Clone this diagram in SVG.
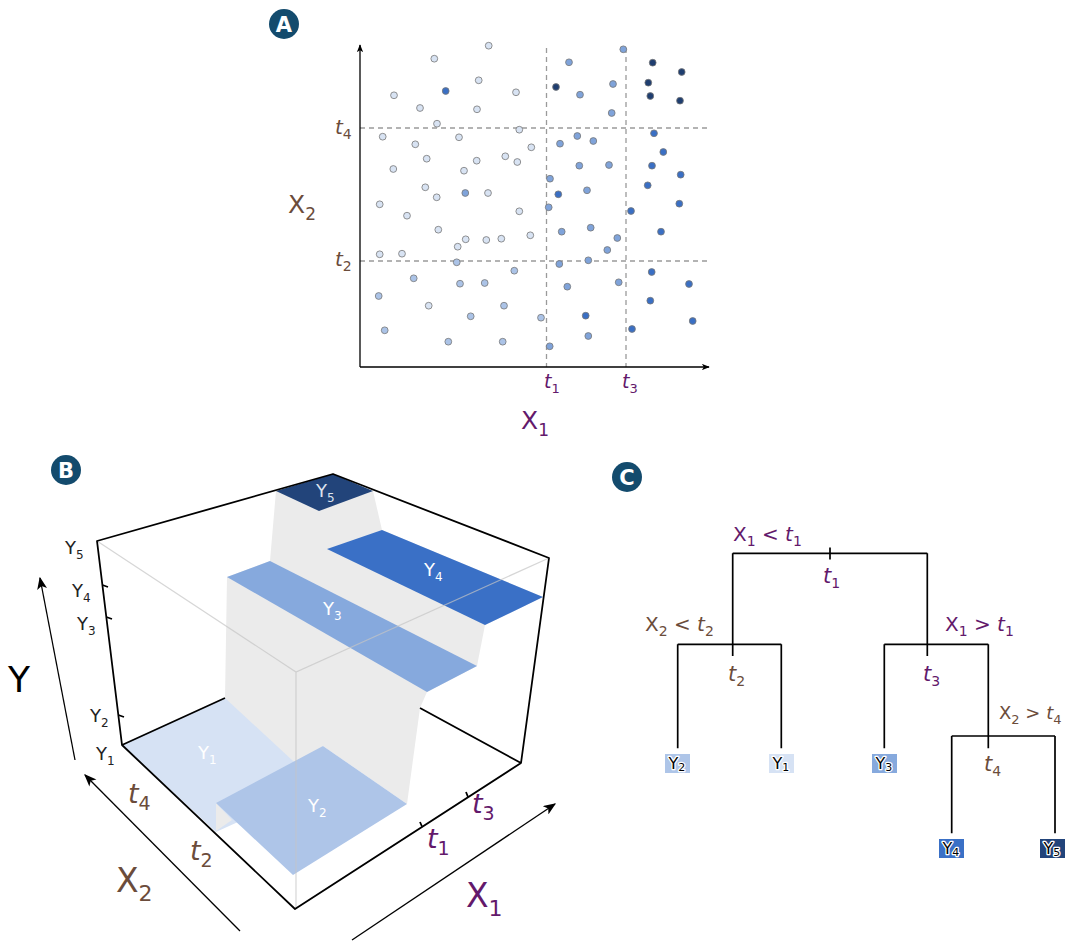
<svg xmlns="http://www.w3.org/2000/svg" width="1065" height="947" viewBox="0 0 1065 947">
<style>
text{font-family:"DejaVu Sans","Liberation Sans",sans-serif}
.pu{fill:#63196b}.br{fill:#6b4c3b}
.it{font-style:italic}
.badge circle{fill:#134b6d}
.badge text{fill:#fff;font-weight:bold;font-size:21px;text-anchor:middle}
.ax{stroke:#000;stroke-width:1.3;fill:none}
.dash{stroke:#9a9a9a;stroke-width:1.3;stroke-dasharray:5 4;fill:none}
.pt circle{r:3.4px;stroke:#777;stroke-width:0.8}
.L{fill:#d8e3f3}.M2{fill:#abc3e7}.M{fill:#7fa3da}.B{fill:#3a6fc4}.D{fill:#1f3e70}
.edge{stroke:#000;stroke-width:1.8;fill:none;stroke-linejoin:round}
.glin{stroke:#c4c4c4;stroke-width:1.2;fill:none;opacity:0.7}
.plab{fill:#fff;font-size:18px}
.ylab{fill:#222;font-size:18px}
.tree{stroke:#000;stroke-width:1.7;fill:none}
.leaf text{font-size:16px;fill:#000;stroke:#fff;stroke-width:2.5;paint-order:stroke;stroke-linejoin:round}
</style>
<defs>
<marker id="arrA" viewBox="0 0 10 8" refX="9" refY="4" markerWidth="8" markerHeight="6.4" markerUnits="userSpaceOnUse" orient="auto"><path d="M0,0 L10,4 L0,8 L2.5,4 z" fill="#000"/></marker>
<marker id="arrB" viewBox="0 0 10 8" refX="9" refY="4" markerWidth="13" markerHeight="10" markerUnits="userSpaceOnUse" orient="auto"><path d="M0,0 L10,4 L0,8 L2.5,4 z" fill="#000"/></marker>
</defs>

<!-- Panel A -->
<g id="badgeA" class="badge"><circle cx="284" cy="24" r="15"/><text x="284" y="31.5">A</text></g>
<g id="panelA-grid">
<line class="dash" x1="546.5" y1="48" x2="546.5" y2="367"/>
<line class="dash" x1="626" y1="48" x2="626" y2="367"/>
<line class="dash" x1="360" y1="128" x2="707" y2="128"/>
<line class="dash" x1="360" y1="261" x2="707" y2="261"/>
</g>
<g id="panelA-axes">
<line class="ax" x1="360" y1="367" x2="360" y2="45" marker-end="url(#arrA)"/>
<line class="ax" x1="360" y1="367" x2="709" y2="367" marker-end="url(#arrA)"/>
</g>
<g id="panelA-points" class="pt">
<circle class="L" cx="488.7" cy="45.7"/><circle class="L" cx="434.3" cy="58.7"/><circle class="L" cx="394" cy="95.3"/><circle class="L" cx="478.7" cy="80.3"/><circle class="L" cx="420" cy="108"/><circle class="L" cx="477" cy="109.3"/><circle class="L" cx="516" cy="92.3"/><circle class="L" cx="437" cy="123.7"/><circle class="L" cx="382.7" cy="136.7"/><circle class="L" cx="415.3" cy="144.3"/><circle class="L" cx="459" cy="137.3"/><circle class="L" cx="519.3" cy="129.7"/><circle class="L" cx="531.3" cy="147.3"/><circle class="L" cx="393.3" cy="169"/><circle class="L" cx="426.7" cy="158.7"/><circle class="L" cx="464" cy="170.7"/><circle class="L" cx="476.7" cy="160.7"/><circle class="L" cx="505.3" cy="156.3"/><circle class="L" cx="517.3" cy="162"/><circle class="L" cx="425.3" cy="187.3"/><circle class="L" cx="436.7" cy="197.3"/><circle class="L" cx="488" cy="193"/><circle class="L" cx="379.7" cy="204.3"/><circle class="L" cx="407" cy="215.7"/><circle class="L" cx="519.3" cy="211.3"/><circle class="L" cx="438.3" cy="229.7"/><circle class="L" cx="465.7" cy="239.3"/><circle class="L" cx="486.3" cy="240"/><circle class="L" cx="501.3" cy="238.7"/><circle class="L" cx="530.3" cy="235.3"/><circle class="L" cx="457.7" cy="246.7"/><circle class="L" cx="379.7" cy="254.3"/><circle class="L" cx="402" cy="253.7"/><circle class="L" cx="428.7" cy="305.7"/>
<circle class="B" cx="445.7" cy="91"/><circle class="M" cx="465.3" cy="193"/>
<circle class="M2" cx="456.7" cy="262.3"/><circle class="M2" cx="413.7" cy="278.3"/><circle class="M2" cx="460" cy="283.7"/><circle class="M2" cx="484.7" cy="283"/><circle class="M2" cx="514.3" cy="270.7"/><circle class="M2" cx="378.7" cy="296"/><circle class="M2" cx="470.7" cy="316.3"/><circle class="M2" cx="504" cy="305.7"/><circle class="M2" cx="541" cy="317.7"/><circle class="M2" cx="384.7" cy="330.3"/><circle class="M2" cx="448.3" cy="341.7"/><circle class="M2" cx="502.7" cy="341.7"/>
<circle class="M" cx="569" cy="62.3"/><circle class="M" cx="623.3" cy="49.3"/><circle class="M" cx="580" cy="94.7"/><circle class="M" cx="613" cy="84"/><circle class="M" cx="611.7" cy="113"/><circle class="M" cx="560" cy="143.7"/><circle class="M" cx="577.3" cy="136"/><circle class="M" cx="593.3" cy="141"/><circle class="M" cx="579.3" cy="165.7"/><circle class="M" cx="609" cy="165"/><circle class="M" cx="550" cy="178.7"/><circle class="M" cx="587" cy="190.3"/><circle class="M" cx="548.7" cy="207.3"/><circle class="M" cx="561.7" cy="231.7"/><circle class="M" cx="590.7" cy="227.7"/><circle class="M" cx="617.3" cy="238"/><circle class="M" cx="607.3" cy="250"/><circle class="M" cx="588.3" cy="260.3"/><circle class="M" cx="559.3" cy="264"/><circle class="M" cx="549.7" cy="346.3"/><circle class="M" cx="567.3" cy="286.7"/><circle class="M" cx="618.7" cy="282.3"/><circle class="M" cx="588.3" cy="336"/>
<circle class="D" cx="556" cy="87"/><circle class="D" cx="652.7" cy="62.7"/><circle class="D" cx="681.7" cy="72"/><circle class="D" cx="648.3" cy="82.7"/><circle class="D" cx="650.3" cy="96"/><circle class="D" cx="680" cy="100.7"/>
<circle class="B" cx="558.3" cy="194.3"/><circle class="B" cx="654" cy="133.3"/><circle class="B" cx="663.3" cy="152"/><circle class="B" cx="652" cy="165.7"/><circle class="B" cx="680.7" cy="174.7"/><circle class="B" cx="647.7" cy="185.3"/><circle class="B" cx="679.3" cy="203.7"/><circle class="B" cx="631" cy="211"/><circle class="B" cx="661" cy="231.7"/><circle class="B" cx="651.7" cy="272"/><circle class="B" cx="689" cy="284"/><circle class="B" cx="650.3" cy="300.7"/><circle class="B" cx="692.7" cy="321"/><circle class="B" cx="632" cy="329"/><circle class="B" cx="585.7" cy="315.7"/>
</g>
<g id="panelA-labels">
<text class="br it" x="335" y="134" font-size="20">t<tspan dy="5" font-size="14" font-style="normal">4</tspan></text>
<text class="br it" x="335" y="266" font-size="20">t<tspan dy="5" font-size="14" font-style="normal">2</tspan></text>
<text class="br" x="288" y="213" font-size="25">X<tspan dy="7" font-size="17">2</tspan></text>
<text class="pu it" x="544" y="388" font-size="19">t<tspan dy="5" font-size="13" font-style="normal">1</tspan></text>
<text class="pu it" x="622" y="388" font-size="19">t<tspan dy="5" font-size="13" font-style="normal">3</tspan></text>
<text class="pu" x="521" y="429" font-size="25">X<tspan dy="7" font-size="17">1</tspan></text>
</g>

<!-- Panel B -->
<g id="badgeB" class="badge"><circle cx="66" cy="470" r="15"/><text x="66" y="477.5">B</text></g>
<g id="panelB-surface">
<polygon fill="#ebebeb" points="276,491 373,491 382,530 543,597 485,625 477,666 427,692 420,708 407,804 323,746 232,821 216,830 216,803 225,698 227,577 270,561"/>
<polygon id="sY1" fill="#d6e2f4" points="122,745 225,698 319,785 216,832"/>
<polygon fill="#ebebeb" points="216,803 216,831 232,820"/>
<polygon id="sY2" fill="#aec5e8" points="216,803 323,746 407,804 293,875"/>
<polygon id="sY3" fill="#86a9dd" points="227,577 270,561 477,666 427,692"/>
<polygon id="sY4" fill="#3a70c6" points="327,549 382,530 543,597 485,625"/>
<polygon id="sY5" fill="#22447a" points="276,491 333,474 373,491 319,511"/>
</g>
<g id="panelB-box">
<path class="glin" d="M97,541 L296,672 L549,558 M296,672 L296,909"/>
<path class="edge" d="M97,541 L333,474 L549,558 L521,763 L295,909 L122,745 Z M122,745 L225,698 M521,763 L420,708"/>
<path class="edge" stroke-width="1.4" d="M102.4,585 L108,587 M106.3,617 L112,619 M118.3,715 L124,717 M422,826.5 L420,822 M468,797 L466,792"/>
</g>
<g id="panelB-plabels" class="plab">
<text x="316" y="497" fill="#dde3ee">Y<tspan dy="5" font-size="12">5</tspan></text>
<text x="424" y="576">Y<tspan dy="5" font-size="12">4</tspan></text>
<text x="323" y="615">Y<tspan dy="5" font-size="12">3</tspan></text>
<text x="198" y="759">Y<tspan dy="5" font-size="12">1</tspan></text>
<text x="308" y="812">Y<tspan dy="5" font-size="12">2</tspan></text>
</g>
<g id="panelB-ylabels" class="ylab">
<text x="65" y="554">Y<tspan dy="5" font-size="12">5</tspan></text>
<text x="72" y="597">Y<tspan dy="5" font-size="12">4</tspan></text>
<text x="77" y="630">Y<tspan dy="5" font-size="12">3</tspan></text>
<text x="90" y="722">Y<tspan dy="5" font-size="12">2</tspan></text>
<text x="96" y="760">Y<tspan dy="5" font-size="12">1</tspan></text>
</g>
<g id="panelB-axes">
<line class="ax" stroke-width="1.8" x1="75" y1="760" x2="40" y2="578" marker-end="url(#arrB)"/>
<line class="ax" stroke-width="1.8" x1="240" y1="931" x2="85" y2="775" marker-end="url(#arrB)"/>
<line class="ax" stroke-width="1.8" x1="352" y1="940" x2="555" y2="804" marker-end="url(#arrB)"/>
<text x="8" y="692" font-size="36" fill="#000">Y</text>
<text class="br it" x="128" y="803" font-size="27">t<tspan dy="7" font-size="19" font-style="normal">4</tspan></text>
<text class="br it" x="190" y="860" font-size="27">t<tspan dy="7" font-size="19" font-style="normal">2</tspan></text>
<text class="pu it" x="427" y="848" font-size="27">t<tspan dy="7" font-size="19" font-style="normal">1</tspan></text>
<text class="pu it" x="472" y="813" font-size="27">t<tspan dy="7" font-size="19" font-style="normal">3</tspan></text>
<text class="br" x="116" y="892" font-size="33">X<tspan dy="9" font-size="22">2</tspan></text>
<text class="pu" x="466" y="907" font-size="33">X<tspan dy="9" font-size="22">1</tspan></text>
</g>

<!-- Panel C -->
<g id="badgeC" class="badge"><circle cx="627" cy="477" r="15"/><text x="627" y="484.5">C</text></g>
<g id="connectors" class="tree">
<path d="M732.7,553.3 H927.3 M830,547.5 V559.5 M732.7,553.3 V656 M677.7,644.3 H781.3 M677.7,644.3 V748.3 M781.3,644.3 V748.3 M927.3,553.3 V656 M884.3,644.3 H988.3 M884.3,644.3 V748.3 M988.3,644.3 V748.3 M951.7,736 H1055 M951.7,736 V833.3 M1055,736 V833.3"/>
</g>
<g id="tree-labels" font-size="20">
<text class="pu" x="733" y="541">X<tspan dy="5" font-size="14">1</tspan><tspan dy="-5"> &lt; </tspan><tspan font-style="italic">t</tspan><tspan dy="5" font-size="14">1</tspan></text>
<text class="pu it" x="823" y="583" font-size="21">t<tspan dy="5" font-size="14" font-style="normal">1</tspan></text>
<text class="br" x="645" y="631">X<tspan dy="5" font-size="14">2</tspan><tspan dy="-5"> &lt; </tspan><tspan font-style="italic">t</tspan><tspan dy="5" font-size="14">2</tspan></text>
<text class="pu" x="945" y="631">X<tspan dy="5" font-size="14">1</tspan><tspan dy="-5"> &gt; </tspan><tspan font-style="italic">t</tspan><tspan dy="5" font-size="14">1</tspan></text>
<text class="br it" x="728" y="681" font-size="21">t<tspan dy="5" font-size="14" font-style="normal">2</tspan></text>
<text class="pu it" x="923" y="681" font-size="21">t<tspan dy="5" font-size="14" font-style="normal">3</tspan></text>
<text class="br" x="999" y="719" font-size="18">X<tspan dy="5" font-size="13">2</tspan><tspan dy="-5"> &gt; </tspan><tspan font-style="italic">t</tspan><tspan dy="5" font-size="13">4</tspan></text>
<text class="br it" x="984" y="771" font-size="21">t<tspan dy="5" font-size="14" font-style="normal">4</tspan></text>
</g>
<g id="leafY2" class="leaf"><rect x="665" y="754" width="25" height="19" fill="#aec5e8"/><text x="668.5" y="768.5">Y<tspan dy="2" font-size="11">2</tspan></text></g>
<g id="leafY1" class="leaf"><rect x="769" y="754" width="25" height="19" fill="#d6e2f4"/><text x="772.5" y="768.5">Y<tspan dy="2" font-size="11">1</tspan></text></g>
<g id="leafY3" class="leaf"><rect x="872" y="754" width="25" height="19" fill="#86a9dd"/><text x="875.5" y="768.5">Y<tspan dy="2" font-size="11">3</tspan></text></g>
<g id="leafY4" class="leaf"><rect x="939" y="839" width="25" height="19" fill="#3a70c6"/><text x="942.5" y="853.5">Y<tspan dy="2" font-size="11">4</tspan></text></g>
<g id="leafY5" class="leaf"><rect x="1040" y="839" width="25" height="19" fill="#22447a"/><text x="1043.5" y="853.5">Y<tspan dy="2" font-size="11">5</tspan></text></g>
</svg>
